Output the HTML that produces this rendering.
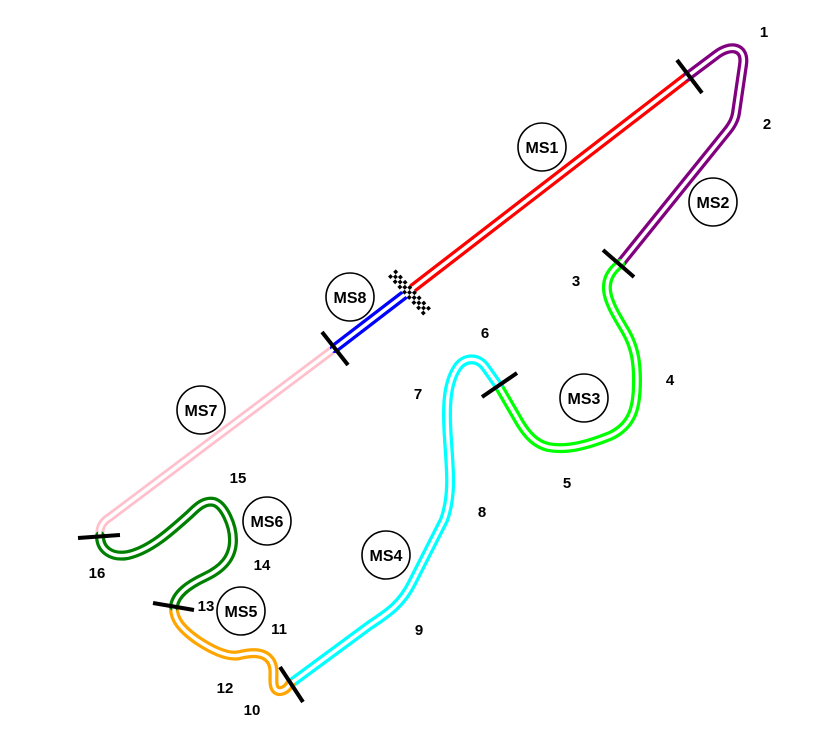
<!DOCTYPE html>
<html>
<head>
<meta charset="utf-8">
<style>
  html,body{margin:0;padding:0;background:#fff;}
  svg{display:block;}
  text{font-family:"Liberation Sans",Arial,sans-serif;font-weight:bold;fill:#000;}
  .num{font-size:15px;}
  .ms{font-size:16px;}
</style>
</head>
<body>
<svg width="832" height="756" viewBox="0 0 832 756" xmlns="http://www.w3.org/2000/svg">
  <rect width="832" height="756" fill="#fff"/>
  <g fill="none" stroke-linecap="round" stroke-linejoin="round">
    <!-- colored outer strokes -->
    <path d="M 100 536 C 99 528 102 522 110 517 L 335 348" stroke="#ffc0cb" stroke-width="9"/>
    <path d="M 335 348 L 408 292" stroke="#0000ff" stroke-width="10"/>
    <path d="M 408 292 L 688 76" stroke="#ff0000" stroke-width="10"/>
    <path d="M 688 76 L 716 55 C 730 44 746 46 743 65 L 736 113 C 735 120 732 125 728 130 L 620 264" stroke="#800080" stroke-width="10"/>
    <path d="M 620 264 C 612 270 606 278 607 290 C 608 303 618 318 626 332 C 634 346 637 360 637 380 C 637 405 634 425 610 436 C 590 444 568 451 548 447 C 536 444 528 436 520 423 L 498 385" stroke="#00ff00" stroke-width="10"/>
    <path d="M 498 385 L 486 368 C 478 356 464 357 457 368 C 446 385 446 410 448 440 C 450 470 453 495 444 520 L 412 583 C 402 603 390 612 370 625 L 290 684" stroke="#00ffff" stroke-width="10"/>
    <path d="M 290 684 C 285 692 276 694 274 686 C 272 678 276 668 270 660 C 264 652 252 652 240 655 C 228 658 212 650 197 640 C 183 630 173 620 174 606" stroke="#ffa500" stroke-width="10"/>
    <path d="M 174 606 C 176 594 188 585 205 577 C 222 569 233 558 233 540 C 233 525 224 505 214 502 C 205 500 198 506 190 514 C 170 532 150 550 128 555 C 112 558 100 550 100 536" stroke="#008000" stroke-width="10"/>
    <!-- white centers -->
    <g stroke="#fff" stroke-width="3.5">
      <path d="M 100 536 C 99 528 102 522 110 517 L 335 348"/>
      <path d="M 335 348 L 408 292"/>
      <path d="M 408 292 L 688 76"/>
      <path d="M 688 76 L 716 55 C 730 44 746 46 743 65 L 736 113 C 735 120 732 125 728 130 L 620 264"/>
      <path d="M 620 264 C 612 270 606 278 607 290 C 608 303 618 318 626 332 C 634 346 637 360 637 380 C 637 405 634 425 610 436 C 590 444 568 451 548 447 C 536 444 528 436 520 423 L 498 385"/>
      <path d="M 498 385 L 486 368 C 478 356 464 357 457 368 C 446 385 446 410 448 440 C 450 470 453 495 444 520 L 412 583 C 402 603 390 612 370 625 L 290 684"/>
      <path d="M 290 684 C 285 692 276 694 274 686 C 272 678 276 668 270 660 C 264 652 252 652 240 655 C 228 658 212 650 197 640 C 183 630 173 620 174 606"/>
      <path d="M 174 606 C 176 594 188 585 205 577 C 222 569 233 558 233 540 C 233 525 224 505 214 502 C 205 500 198 506 190 514 C 170 532 150 550 128 555 C 112 558 100 550 100 536"/>
    </g>
  </g>

  <!-- sector lines -->
  <g stroke="#000" stroke-width="4" stroke-linecap="butt">
    <line x1="677" y1="60" x2="702" y2="93"/>
    <line x1="603" y1="250" x2="634" y2="277"/>
    <line x1="482" y1="397" x2="517" y2="373"/>
    <line x1="280" y1="667" x2="303" y2="702"/>
    <line x1="153" y1="603" x2="194" y2="610"/>
    <line x1="78" y1="538" x2="120" y2="535"/>
    <line x1="322" y1="332" x2="348" y2="365"/>
  </g>

  <!-- checkered finish line -->
  <g transform="translate(410 293) rotate(48)">
    <rect x="-27" y="-5.25" width="54" height="10.5" fill="#fff"/>
    <g fill="#000">
      <rect x="-27" y="-5.25" width="3.5" height="3.5"/>
      <rect x="-20" y="-5.25" width="3.5" height="3.5"/>
      <rect x="-13" y="-5.25" width="3.5" height="3.5"/>
      <rect x="-6" y="-5.25" width="3.5" height="3.5"/>
      <rect x="1" y="-5.25" width="3.5" height="3.5"/>
      <rect x="8" y="-5.25" width="3.5" height="3.5"/>
      <rect x="15" y="-5.25" width="3.5" height="3.5"/>
      <rect x="22" y="-5.25" width="3.5" height="3.5"/>
      <rect x="-23.5" y="-1.75" width="3.5" height="3.5"/>
      <rect x="-16.5" y="-1.75" width="3.5" height="3.5"/>
      <rect x="-9.5" y="-1.75" width="3.5" height="3.5"/>
      <rect x="-2.5" y="-1.75" width="3.5" height="3.5"/>
      <rect x="4.5" y="-1.75" width="3.5" height="3.5"/>
      <rect x="11.5" y="-1.75" width="3.5" height="3.5"/>
      <rect x="18.5" y="-1.75" width="3.5" height="3.5"/>
      <rect x="-27" y="1.75" width="3.5" height="3.5"/>
      <rect x="-20" y="1.75" width="3.5" height="3.5"/>
      <rect x="-13" y="1.75" width="3.5" height="3.5"/>
      <rect x="-6" y="1.75" width="3.5" height="3.5"/>
      <rect x="1" y="1.75" width="3.5" height="3.5"/>
      <rect x="8" y="1.75" width="3.5" height="3.5"/>
      <rect x="15" y="1.75" width="3.5" height="3.5"/>
      <rect x="22" y="1.75" width="3.5" height="3.5"/>
    </g>
  </g>

  <!-- sector circles -->
  <g fill="#fff" stroke="#000" stroke-width="1.6">
    <circle cx="542" cy="147" r="24"/>
    <circle cx="713" cy="202" r="24"/>
    <circle cx="584" cy="398" r="24"/>
    <circle cx="386" cy="555" r="24"/>
    <circle cx="241" cy="611" r="24"/>
    <circle cx="267" cy="521" r="24"/>
    <circle cx="201" cy="410" r="24"/>
    <circle cx="350" cy="297" r="24"/>
  </g>
  <g class="ms" text-anchor="middle">
    <text x="542" y="153">MS1</text>
    <text x="713" y="208">MS2</text>
    <text x="584" y="404">MS3</text>
    <text x="386" y="561">MS4</text>
    <text x="241" y="617">MS5</text>
    <text x="267" y="527">MS6</text>
    <text x="201" y="416">MS7</text>
    <text x="350" y="303">MS8</text>
  </g>

  <!-- turn numbers -->
  <g class="num" text-anchor="middle">
    <text x="764" y="37">1</text>
    <text x="767" y="129">2</text>
    <text x="576" y="286">3</text>
    <text x="670" y="385">4</text>
    <text x="567" y="488">5</text>
    <text x="485" y="338">6</text>
    <text x="418" y="399">7</text>
    <text x="482" y="517">8</text>
    <text x="419" y="635">9</text>
    <text x="252" y="715">10</text>
    <text x="279" y="634">11</text>
    <text x="225" y="693">12</text>
    <text x="206" y="611">13</text>
    <text x="262" y="570">14</text>
    <text x="238" y="483">15</text>
    <text x="97" y="578">16</text>
  </g>
</svg>
</body>
</html>
